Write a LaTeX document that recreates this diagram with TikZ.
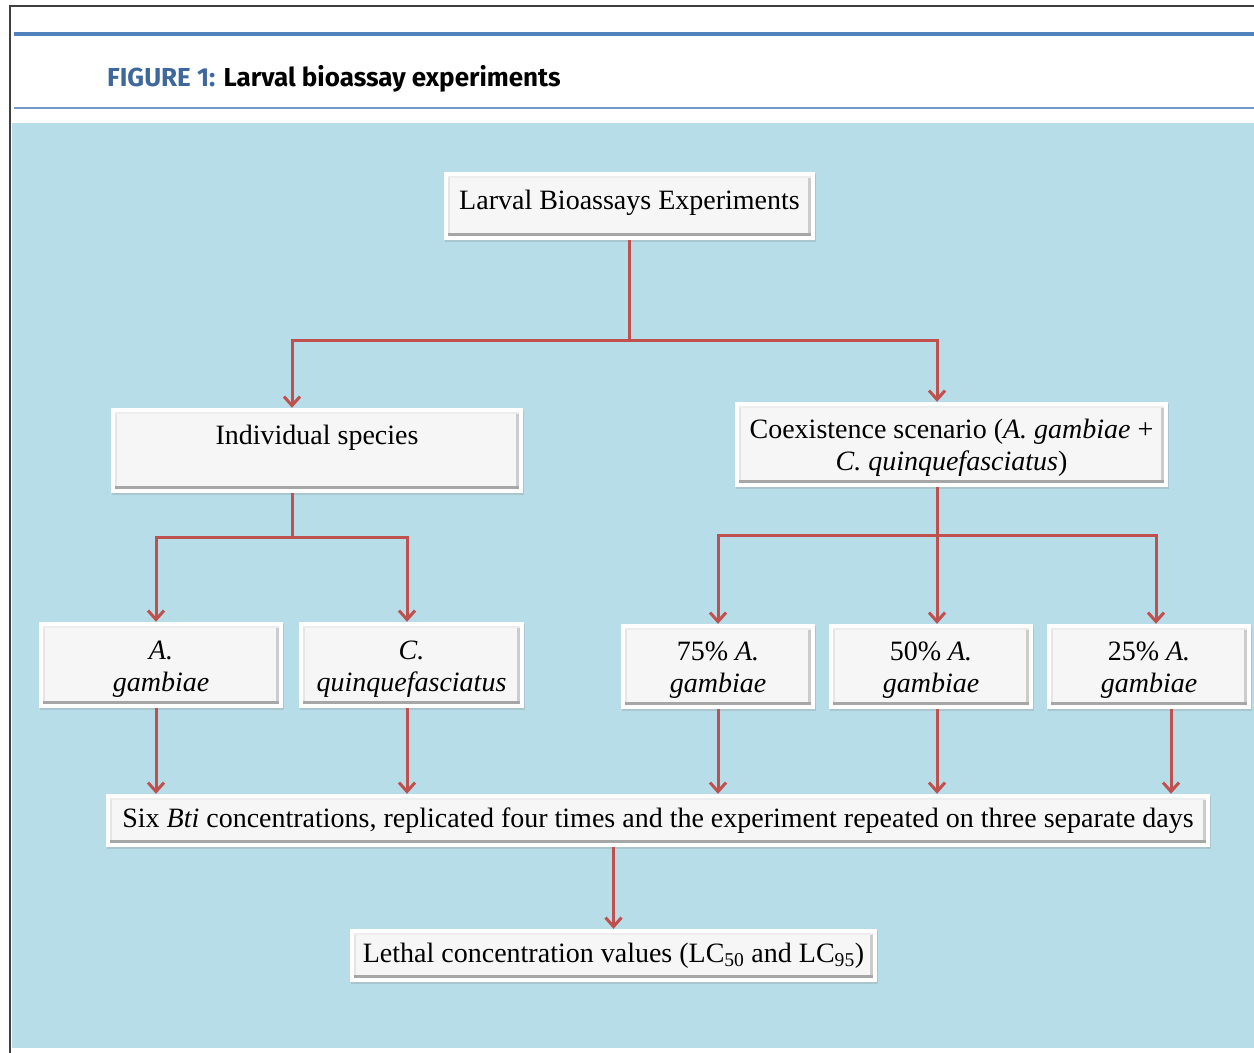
\documentclass[tikz,border=0pt]{standalone}
\usepackage{fontspec}
\setmainfont{Liberation Serif}
\newfontfamily\titlefont{Fira Sans}
\usepackage{xcolor}
\usepackage{tikz}
\usetikzlibrary{positioning,calc}
\usetikzlibrary{arrows.meta,shadows}
\definecolor{bgblue}{RGB}{183,221,232}
\definecolor{rulecol}{RGB}{79,129,189}
\definecolor{figblue}{RGB}{62,103,155}
\definecolor{linkred}{RGB}{192,80,77}
\definecolor{panel}{RGB}{246,246,246}
\newcommand{\bodyfont}{\fontsize{28}{32}\selectfont}
\newcommand{\twolines}[2]{\raisebox{-4pt}[\height][\depth]{\begin{tabular}{@{}c@{}}#1\\#2\end{tabular}}}
\tikzstyle{block} = [rectangle,fill=white,inner sep=0pt,align=center,font=\bodyfont,
  drop shadow={opacity=0.25,shadow xshift=1pt,shadow yshift=-2pt},
  path picture={
    \fill[panel] ([shift={(4pt,4pt)}]path picture bounding box.south west) rectangle ([shift={(-4pt,-4pt)}]path picture bounding box.north east);
    \fill[black!10] ([shift={(4pt,4pt)}]path picture bounding box.south west) rectangle ([shift={(6pt,-4pt)}]path picture bounding box.north west);
    \fill[black!20] ([shift={(-7pt,4pt)}]path picture bounding box.south east) rectangle ([shift={(-4pt,-4pt)}]path picture bounding box.north east);
    \fill[black!35] ([shift={(4pt,4pt)}]path picture bounding box.south west) rectangle ([shift={(-4pt,7pt)}]path picture bounding box.south east);
    \fill[black!7] ([shift={(4pt,-6pt)}]path picture bounding box.north west) rectangle ([shift={(-4pt,-4pt)}]path picture bounding box.north east);
  }]
\tikzstyle{line} = [draw=linkred,line width=3pt,-{Straight Barb[length=9pt,width=16pt]}]

\begin{document}
\begin{tikzpicture}[x=1pt,y=-1pt]
    \useasboundingbox (0,0) rectangle (1254,1053);
    \fill[white] (0,0) rectangle (1254,1053);
    % page frame and header rules
    \fill[bgblue] (12,123) rectangle (1254,1048);
    \draw[black!75,line width=1.5pt] (10,1053) -- (10,6) -- (1254,6);
    \draw[rulecol,line width=4pt] (14,34) -- (1254,34);
    \draw[rulecol!80,line width=2pt] (14,108) -- (1254,108);
    \node[anchor=base west,inner sep=0pt] (title) at (107,86)
        {\titlefont\bfseries\fontsize{26}{30}\selectfont\textcolor{figblue}{FIGURE 1:} Larval bioassay experiments};

    % boxes
    \node[block,minimum width=371pt,minimum height=68pt] (top) at (629.5,206) {\raisebox{3pt}[\height][\depth]{Larval Bioassays Experiments}};
    \node[block,minimum width=412pt,minimum height=85pt] (indiv) at (317,450.5) {\twolines{Individual species}{~}};
    \node[block,minimum width=433pt,minimum height=85pt] (coex) at (951.5,444.5) {\twolines{Coexistence scenario (\textit{A. gambiae} +}{\textit{C. quinquefasciatus})}};
    \node[block,minimum width=244pt,minimum height=86pt] (ag) at (161,665) {\twolines{\textit{A.}}{\textit{gambiae}}};
    \node[block,minimum width=225pt,minimum height=86pt] (cq) at (411.5,665) {\twolines{\textit{C.}}{\textit{quinquefasciatus}}};
    \node[block,minimum width=194pt,minimum height=85pt] (p75) at (718,666.5) {\twolines{75\% \textit{A.}}{\textit{gambiae}}};
    \node[block,minimum width=204pt,minimum height=85pt] (p50) at (931,666.5) {\twolines{50\% \textit{A.}}{\textit{gambiae}}};
    \node[block,minimum width=204pt,minimum height=85pt] (p25) at (1149,666.5) {\twolines{25\% \textit{A.}}{\textit{gambiae}}};
    \node[block,minimum width=1104pt,minimum height=53pt] (six) at (658,820.5) {Six \textit{Bti} concentrations, replicated four times and the experiment repeated on three separate days};
    \node[block,minimum width=527pt,minimum height=53pt] (lethal) at (613.5,955.5) {Lethal concentration values (LC\textsubscript{50} and LC\textsubscript{95})};

    % connectors
    \draw[line] (top.south) -- ++(0,100) coordinate (s1) -| ([xshift=-25pt]indiv.north);
    \draw[line] (s1) -| ([xshift=-14.5pt]coex.north);
    \draw[line] ([xshift=-25pt]indiv.south) -- ++(0,44) coordinate (s2) -| ([xshift=-5pt]ag.north);
    \draw[line] (s2) -| ([xshift=-4.5pt]cq.north);
    \draw[line] ([xshift=-14.5pt]coex.south) -- ++(0,48) coordinate (s3) -| (p75.north);
    \draw[line] (s3) -| ([xshift=6pt]p50.north);
    \draw[line] (s3) -| ([xshift=7pt]p25.north);
    \draw[line] ([xshift=-5pt]ag.south) -- ([xshift=-5pt]ag.south |- six.north);
    \draw[line] ([xshift=-4.5pt]cq.south) -- ([xshift=-4.5pt]cq.south |- six.north);
    \draw[line] (p75.south) -- (p75.south |- six.north);
    \draw[line] ([xshift=6pt]p50.south) -- ([xshift=6pt]p50.south |- six.north);
    \draw[line] ([xshift=22pt]p25.south) -- ([xshift=22pt]p25.south |- six.north);
    \draw[line] (lethal.north |- six.south) -- (lethal.north);
\end{tikzpicture}
\end{document}
